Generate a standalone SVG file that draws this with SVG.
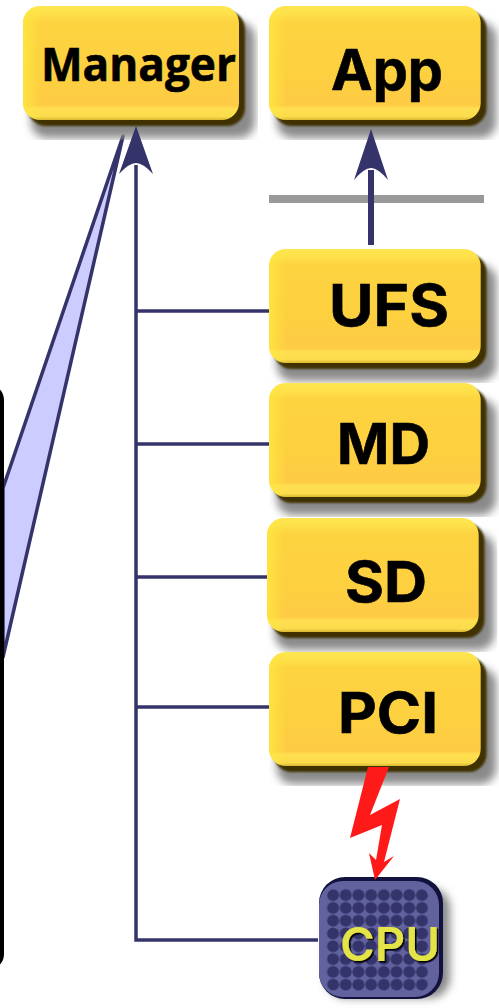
<svg xmlns="http://www.w3.org/2000/svg" width="499" height="1008" viewBox="0 0 499 1008">
<style>
.wire{fill:none;stroke:#34346b;stroke-width:3.5}
.head{fill:#34346b}
.lbl{font-family:"Inter","Open Sans","DejaVu Sans",sans-serif;font-weight:700;fill:#000;stroke:#000;stroke-width:.6}
.mgr{font-family:"Open Sans","Noto Sans","DejaVu Sans",sans-serif}
.cpu{font-family:"Inter","Open Sans","DejaVu Sans",sans-serif;font-weight:600;fill:#e4e448;filter:url(#ts)}
</style>
<defs>
<filter id="b4" x="-20%" y="-20%" width="140%" height="140%"><feGaussianBlur stdDeviation="4.5"/></filter>
<filter id="b1" x="-10%" y="-10%" width="120%" height="120%"><feGaussianBlur stdDeviation="1"/></filter>
<filter id="ts" x="-10%" y="-10%" width="125%" height="130%"><feDropShadow dx="1.6" dy="1.6" stdDeviation="0.3" flood-color="#000"/></filter>
<clipPath id="bc"><rect width="235" height="134"/></clipPath>
<linearGradient id="yg" x1="0" y1="0" x2="0" y2="1">
<stop offset="0" stop-color="#ffe650"/><stop offset=".07" stop-color="#fee04a"/><stop offset=".14" stop-color="#fdd340"/><stop offset=".6" stop-color="#fdd040"/><stop offset=".87" stop-color="#fecb45"/><stop offset=".9" stop-color="#ffdf50"/><stop offset=".97" stop-color="#fbdc4c"/><stop offset="1" stop-color="#d8b830"/>
</linearGradient>
<linearGradient id="yl" x1="0" y1="0" x2="1" y2="0">
<stop offset="0" stop-color="#ffe840" stop-opacity=".8"/><stop offset=".08" stop-color="#ffe840" stop-opacity="0"/>
</linearGradient>
<pattern id="dots" x="326.7" y="888.7" width="12.7" height="12.8" patternUnits="userSpaceOnUse"><circle cx="6.35" cy="6.4" r="6" fill="#34346b"/></pattern>
<g id="btn">
<g clip-path="url(#bc)">
<rect x="8" y="16" width="224" height="116" rx="16" fill="#8a8a8a" filter="url(#b4)"/>
<rect x="5" y="5" width="217" height="115" rx="18" fill="#3f3200" filter="url(#b1)"/>
<rect x="0" y="0" width="216" height="114" rx="17" fill="url(#yg)"/>
<rect x="0" y="0" width="216" height="114" rx="17" fill="url(#yl)"/>
</g>
</g>
</defs>

<g id="callout">
<polygon points="123,136 3,488 3,657" fill="#ccccff" stroke="#34346b" stroke-width="3.5" stroke-linejoin="round"/>
</g>
<rect id="frame" x="-30" y="386" width="32" height="582" rx="14" fill="none" stroke="#000" stroke-width="4"/>

<rect id="divider" x="269" y="195" width="215" height="8" fill="#999"/>

<g id="node-manager"><use href="#btn" x="23" y="6"/><text class="lbl mgr" x="41" y="81" font-size="46" textLength="195" lengthAdjust="spacingAndGlyphs">Manager</text></g>
<g id="node-app"><use href="#btn" transform="translate(269 6) scale(.98 1)"/><text class="lbl" x="331" y="90" font-size="56" textLength="112" lengthAdjust="spacingAndGlyphs">App</text></g>
<g id="node-ufs"><use href="#btn" transform="translate(269 249) scale(.98 1)"/><text class="lbl" x="329" y="326" font-size="58" textLength="120" lengthAdjust="spacingAndGlyphs">UFS</text></g>
<g id="node-md"><use href="#btn" transform="translate(269 383) scale(.98 1)"/><text class="lbl" x="337" y="464" font-size="56" textLength="93" lengthAdjust="spacingAndGlyphs">MD</text></g>
<g id="node-sd"><use href="#btn" transform="translate(267 518) scale(.98 1)"/><text class="lbl" x="345" y="602" font-size="56" textLength="82" lengthAdjust="spacingAndGlyphs">SD</text></g>
<g id="node-pci"><use href="#btn" transform="translate(269 652) scale(.98 1)"/><text class="lbl" x="338" y="733" font-size="56" textLength="100" lengthAdjust="spacingAndGlyphs">PCI</text></g>

<g id="node-cpu">
<rect x="326" y="888" width="124" height="110" rx="20" fill="#888" filter="url(#b4)"/>
<rect x="319" y="877" width="124" height="122" rx="26" fill="#12123f"/>
<rect x="319" y="881" width="120" height="116" rx="24" fill="#62629f"/>
<rect x="326.7" y="888.7" width="101.6" height="102.4" rx="8" fill="url(#dots)"/>
<text class="cpu" x="340" y="961" font-size="46" textLength="100" lengthAdjust="spacingAndGlyphs">CPU</text>
</g>

<g id="connectors">
<path class="wire" d="M136 165V940H318M136 311H269M136 444H269M136 577H267M136 707H269"/>
<path class="head" d="M136 126L153 174Q143 163 136 163Q129 163 119 174Z"/>
<path class="wire" style="stroke-width:6" d="M371 245V170"/>
<path class="head" d="M371 129L388 180Q378 168 371 168Q364 168 354 180Z"/>
<polygon points="368,767 389,767 370,815 400,799 384,862 394,856 375,880 369,853 376,860 382,825 350,838" fill="#ff1a1a"/>
</g>
</svg>
